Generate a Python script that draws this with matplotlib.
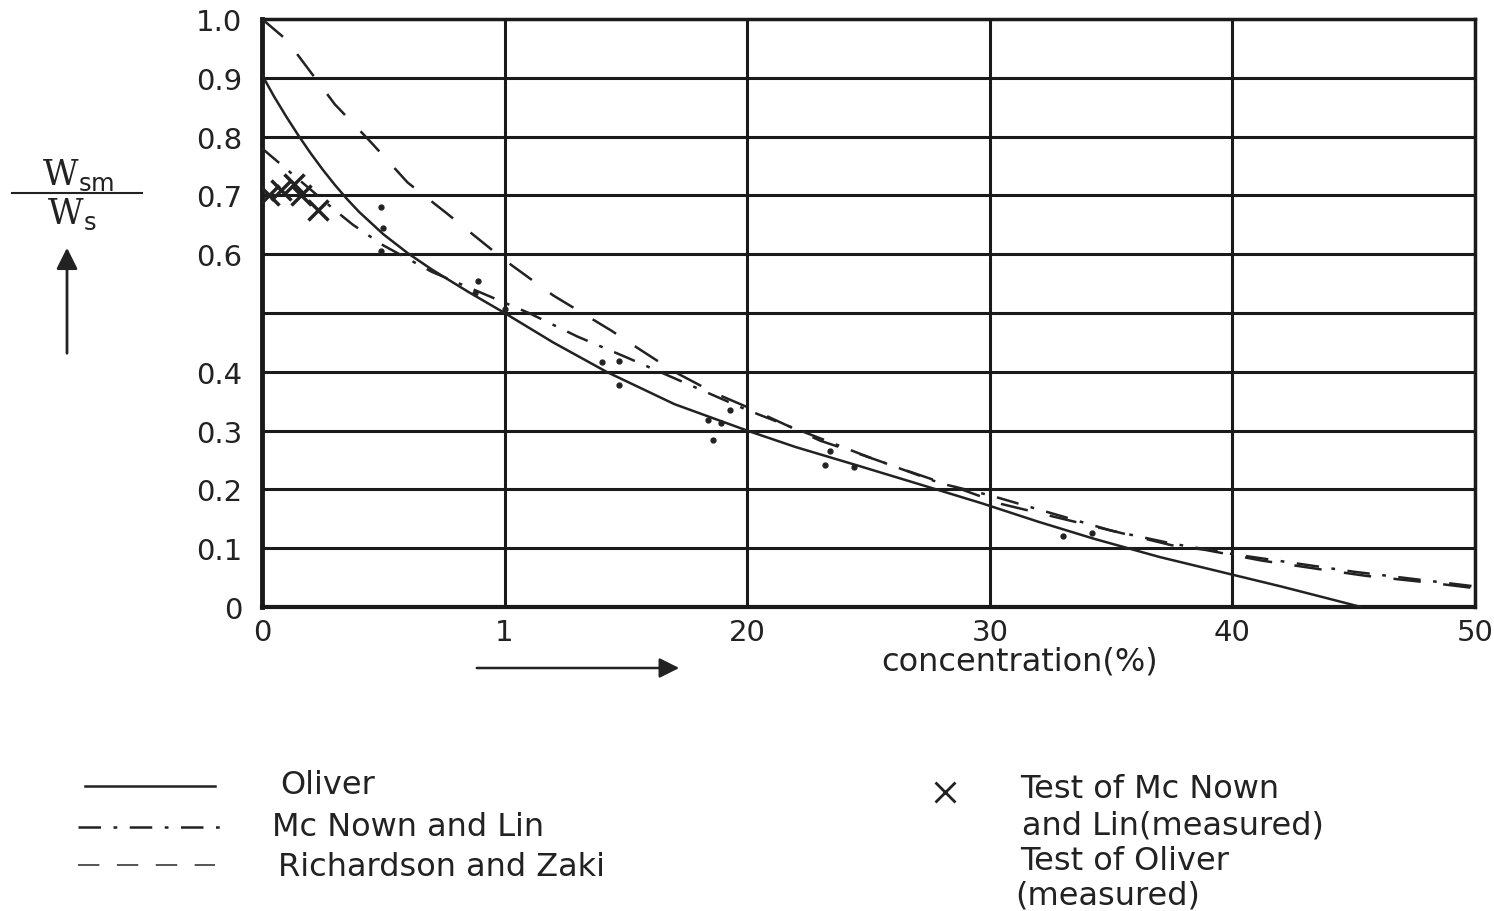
import matplotlib
matplotlib.use("Agg")
import matplotlib.pyplot as plt
from matplotlib.lines import Line2D

# curves (concentration %, Wsm/Ws)
oliver_x = [0, 0.5, 1, 1.5, 2, 2.5, 3, 3.5, 4, 5, 6, 7, 8.5, 10, 12, 14.2, 17, 20,
            22, 24.6, 27, 29.7, 32, 34.3, 37, 39.7, 42, 43.8, 45.3]
oliver_y = [0.905, 0.868, 0.834, 0.802, 0.772, 0.744, 0.718, 0.694, 0.672, 0.634,
            0.602, 0.574, 0.536, 0.50, 0.45, 0.40, 0.345, 0.30, 0.272, 0.24, 0.21,
            0.176, 0.145, 0.116, 0.085, 0.058, 0.035, 0.016, 0.0]

mcnown_x = [0, 1, 2, 3, 3.75, 5, 7, 9, 11, 13, 15, 17.5, 20, 22.5, 25, 28, 30,
            32.5, 35, 37.5, 40, 45, 50]
mcnown_y = [0.78, 0.745, 0.71, 0.675, 0.65, 0.615, 0.57, 0.535, 0.50, 0.46, 0.425,
            0.38, 0.335, 0.295, 0.255, 0.21, 0.19, 0.16, 0.13, 0.108, 0.09, 0.06, 0.035]

rz_x = [0, 1, 2, 3, 4.5, 6, 7.6, 8.8, 10, 12, 13, 14.4, 15.5, 17, 18.7, 20, 23,
        24.3, 26.5, 28.7, 30.5, 32.2, 34.3, 35.7, 37.5, 38.9, 41.2, 43.8, 45.5, 48, 50]
rz_y = [1.0, 0.965, 0.91, 0.855, 0.79, 0.722, 0.67, 0.63, 0.59, 0.53, 0.505, 0.47,
        0.44, 0.40, 0.363, 0.34, 0.283, 0.265, 0.233, 0.202, 0.175, 0.158, 0.137,
        0.123, 0.105, 0.097, 0.079, 0.063, 0.053, 0.042, 0.032]

# measured points
mcnown_test_x = [0.3, 0.8, 1.3, 1.6, 2.3]
mcnown_test_y = [0.70, 0.71, 0.72, 0.70, 0.675]

oliver_test_x = [4.9, 5.0, 4.9, 8.9, 8.8, 10.0, 14.0, 14.7, 14.7, 19.3, 18.4, 18.9,
                 18.6, 23.4, 23.2, 24.4, 33.0, 34.2]
oliver_test_y = [0.681, 0.644, 0.605, 0.554, 0.534, 0.507, 0.417, 0.419, 0.378, 0.335,
                 0.318, 0.313, 0.284, 0.266, 0.241, 0.238, 0.121, 0.126]

x_ticks = [0, 10, 20, 30, 40, 50]
x_ticklabels = ["0", "1", "20", "30", "40", "50"]
y_ticks = [0, 0.1, 0.2, 0.3, 0.4, 0.5, 0.6, 0.7, 0.8, 0.9, 1.0]
y_ticklabels = ["0", "0.1", "0.2", "0.3", "0.4", "", "0.6", "0.7", "0.8", "0.9", "1.0"]

W, H = 1494, 912


def fx(px):
    return px / W


def fy(py):
    return 1 - py / H


fig = plt.figure(figsize=(W / 100, H / 100), dpi=100)
ax = fig.add_axes([fx(262), fy(608), fx(1475) - fx(262), fy(20) - fy(608)])

ax.plot(oliver_x, oliver_y, color="#222222", lw=1.8, zorder=3)
ax.plot(mcnown_x, mcnown_y, color="#222222", lw=1.8, ls=(0, (9, 5, 1.5, 5)), zorder=3)
ax.plot(rz_x, rz_y, color="#222222", lw=1.8, ls=(0, (11, 9)), zorder=3)
ax.plot(mcnown_test_x, mcnown_test_y, ls="none", marker="x", ms=15, mew=2.5,
        color="#222222", zorder=4)
ax.plot(oliver_test_x, oliver_test_y, ls="none", marker="o", ms=3.5,
        color="#222222", zorder=4)

ax.set_xlim(0, 50)
ax.set_ylim(0, 1.0)
ax.set_xticks(x_ticks)
ax.set_xticklabels(x_ticklabels)
ax.set_yticks(y_ticks)
ax.set_yticklabels(y_ticklabels)
ax.tick_params(length=0, labelsize=21, colors="#222222")
ax.tick_params(axis="x", pad=8)
ax.tick_params(axis="y", pad=14)
ax.grid(True, color="#1a1a1a", lw=2.2)
ax.set_axisbelow(True)
for side, lw in [("left", 3.5), ("bottom", 3), ("top", 2.5), ("right", 2.5)]:
    ax.spines[side].set_linewidth(lw)
    ax.spines[side].set_color("#1a1a1a")

fig.text(fx(1020), fy(662), "concentration(%)", fontsize=23, ha="center",
         va="center", color="#222222")

# y label as a fraction
fig.text(fx(78), fy(175), r"W$_{\mathrm{sm}}$", fontsize=25, family="DejaVu Serif",
         ha="center", va="center", color="#222222")
fig.text(fx(72), fy(214), r"W$_{\mathrm{s}}$", fontsize=25, family="DejaVu Serif",
         ha="center", va="center", color="#222222")
fig.add_artist(Line2D([fx(12), fx(142)], [fy(194), fy(194)], color="#222222", lw=1.5))

# arrows
ax.annotate("", xy=(fx(67), fy(246)), xytext=(fx(67), fy(357)),
            xycoords="figure fraction", textcoords="figure fraction",
            arrowprops=dict(arrowstyle="-|>", color="#222222", lw=2, mutation_scale=32))
ax.annotate("", xy=(fx(682), fy(669)), xytext=(fx(474), fy(669)),
            xycoords="figure fraction", textcoords="figure fraction",
            arrowprops=dict(arrowstyle="-|>", color="#222222", lw=1.8, mutation_scale=30))

# legend drawn by hand
fig.add_artist(Line2D([fx(85), fx(215)], [fy(787), fy(787)], color="#222222", lw=1.8))
fig.add_artist(Line2D([fx(78), fx(220)], [fy(828), fy(828)], color="#222222", lw=1.8,
                      ls=(0, (9, 5, 1.5, 5))))
fig.add_artist(Line2D([fx(78), fx(215)], [fy(866), fy(866)], color="#555555", lw=1.4,
                      ls=(0, (11, 9))))
fig.add_artist(Line2D([fx(945)], [fy(793)], ls="none", marker="x", ms=15, mew=2,
                      color="#222222"))

legend_items = [
    (280, 785, "Oliver"),
    (272, 828, "Mc Nown and Lin"),
    (278, 868, "Richardson and Zaki"),
    (1020, 790, "Test of Mc Nown"),
    (1022, 826, "and Lin(measured)"),
    (1020, 862, "Test of Oliver"),
    (1015, 896, "(measured)"),
]
for px, py, s in legend_items:
    fig.text(fx(px), fy(py), s, fontsize=23, ha="left", va="center", color="#222222")

fig.savefig("out.png", dpi=100)
